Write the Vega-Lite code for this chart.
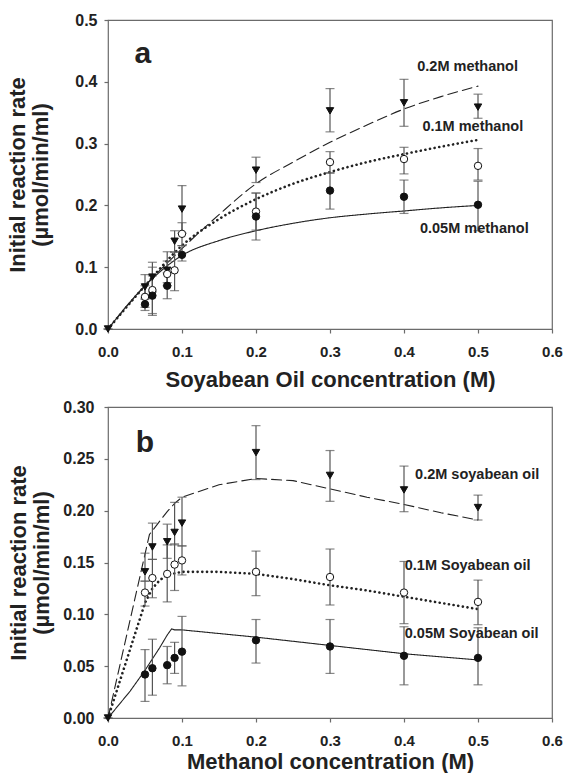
{
  "$schema": "https://vega.github.io/schema/vega-lite/v6.json",
  "padding": {"top": 11, "left": 6, "right": 0, "bottom": 0},
  "background": "white",
  "spacing": 7,
  "columns": 1,
  "align": "none",
  "config": {
    "font": "Liberation Sans",
    "view": {"stroke": "#6b6b6b", "strokeWidth": 1.2},
    "axis": {
      "grid": false, "domain": false, "labelFlush": false, "labelOverlap": false,
      "tickColor": "#6b6b6b", "tickSize": 4, "tickWidth": 1.2,
      "labelFont": "Liberation Sans", "labelFontWeight": "bold", "labelFontSize": 15, "labelColor": "#222",
      "titleFont": "Liberation Sans", "titleFontWeight": "bold", "titleFontSize": 22, "titleColor": "#222"
    },
    "axisY": {"labelFontSize": 16, "titleLineHeight": 23}
  },
  "datasets": {
    "a_pts": [
      {"x": 0, "y": 0, "lo": 0, "hi": 0, "s": "0.2M"},
      {"x": 0.05, "y": 0.068, "lo": 0.048, "hi": 0.088, "s": "0.2M"},
      {"x": 0.06, "y": 0.084, "lo": 0.06, "hi": 0.108, "s": "0.2M"},
      {"x": 0.08, "y": 0.095, "lo": 0.075, "hi": 0.125, "s": "0.2M"},
      {"x": 0.09, "y": 0.142, "lo": 0.125, "hi": 0.159, "s": "0.2M"},
      {"x": 0.1, "y": 0.194, "lo": 0.155, "hi": 0.232, "s": "0.2M"},
      {"x": 0.2, "y": 0.257, "lo": 0.237, "hi": 0.278, "s": "0.2M"},
      {"x": 0.3, "y": 0.353, "lo": 0.319, "hi": 0.389, "s": "0.2M"},
      {"x": 0.4, "y": 0.366, "lo": 0.328, "hi": 0.404, "s": "0.2M"},
      {"x": 0.5, "y": 0.359, "lo": 0.341, "hi": 0.38, "s": "0.2M"},
      {"x": 0.05, "y": 0.052, "lo": 0.035, "hi": 0.07, "s": "0.1M"},
      {"x": 0.06, "y": 0.063, "lo": 0.025, "hi": 0.1, "s": "0.1M"},
      {"x": 0.08, "y": 0.089, "lo": 0.07, "hi": 0.11, "s": "0.1M"},
      {"x": 0.09, "y": 0.095, "lo": 0.062, "hi": 0.124, "s": "0.1M"},
      {"x": 0.1, "y": 0.154, "lo": 0.135, "hi": 0.172, "s": "0.1M"},
      {"x": 0.2, "y": 0.19, "lo": 0.16, "hi": 0.22, "s": "0.1M"},
      {"x": 0.3, "y": 0.27, "lo": 0.252, "hi": 0.287, "s": "0.1M"},
      {"x": 0.4, "y": 0.275, "lo": 0.251, "hi": 0.294, "s": "0.1M"},
      {"x": 0.5, "y": 0.264, "lo": 0.241, "hi": 0.292, "s": "0.1M"},
      {"x": 0.05, "y": 0.04, "lo": 0.03, "hi": 0.05, "s": "0.05M"},
      {"x": 0.06, "y": 0.054, "lo": 0.022, "hi": 0.086, "s": "0.05M"},
      {"x": 0.08, "y": 0.07, "lo": 0.049, "hi": 0.091, "s": "0.05M"},
      {"x": 0.1, "y": 0.12, "lo": 0.11, "hi": 0.135, "s": "0.05M"},
      {"x": 0.2, "y": 0.182, "lo": 0.144, "hi": 0.22, "s": "0.05M"},
      {"x": 0.3, "y": 0.224, "lo": 0.194, "hi": 0.253, "s": "0.05M"},
      {"x": 0.4, "y": 0.214, "lo": 0.187, "hi": 0.241, "s": "0.05M"},
      {"x": 0.5, "y": 0.201, "lo": 0.159, "hi": 0.239, "s": "0.05M"}
    ],
    "a_fit": [
      {"x": 0, "y": 0, "s": "0.2M"}, {"x": 0.05, "y": 0.07, "s": "0.2M"}, {"x": 0.1, "y": 0.13, "s": "0.2M"},
      {"x": 0.15, "y": 0.185, "s": "0.2M"}, {"x": 0.2, "y": 0.235, "s": "0.2M"}, {"x": 0.25, "y": 0.27, "s": "0.2M"},
      {"x": 0.3, "y": 0.302, "s": "0.2M"}, {"x": 0.35, "y": 0.33, "s": "0.2M"}, {"x": 0.4, "y": 0.356, "s": "0.2M"},
      {"x": 0.45, "y": 0.376, "s": "0.2M"}, {"x": 0.5, "y": 0.393, "s": "0.2M"},
      {"x": 0, "y": 0, "s": "0.1M"}, {"x": 0.05, "y": 0.07, "s": "0.1M"}, {"x": 0.1, "y": 0.135, "s": "0.1M"},
      {"x": 0.15, "y": 0.178, "s": "0.1M"}, {"x": 0.2, "y": 0.21, "s": "0.1M"}, {"x": 0.25, "y": 0.235, "s": "0.1M"},
      {"x": 0.3, "y": 0.254, "s": "0.1M"}, {"x": 0.35, "y": 0.27, "s": "0.1M"}, {"x": 0.4, "y": 0.283, "s": "0.1M"},
      {"x": 0.45, "y": 0.295, "s": "0.1M"}, {"x": 0.5, "y": 0.306, "s": "0.1M"},
      {"x": 0, "y": 0, "s": "0.05M"}, {"x": 0.05, "y": 0.07, "s": "0.05M"}, {"x": 0.1, "y": 0.119, "s": "0.05M"},
      {"x": 0.15, "y": 0.143, "s": "0.05M"}, {"x": 0.2, "y": 0.159, "s": "0.05M"}, {"x": 0.25, "y": 0.171, "s": "0.05M"},
      {"x": 0.3, "y": 0.18, "s": "0.05M"}, {"x": 0.35, "y": 0.186, "s": "0.05M"}, {"x": 0.4, "y": 0.191, "s": "0.05M"},
      {"x": 0.45, "y": 0.196, "s": "0.05M"}, {"x": 0.5, "y": 0.2, "s": "0.05M"}
    ],
    "a_lab": [
      {"x": 0.486, "y": 0.424, "t": "0.2M methanol"},
      {"x": 0.493, "y": 0.327, "t": "0.1M methanol"},
      {"x": 0.495, "y": 0.162, "t": "0.05M methanol"}
    ],
    "b_pts": [
      {"x": 0, "y": 0, "lo": 0, "hi": 0, "s": "0.2M"},
      {"x": 0.05, "y": 0.141, "lo": 0.132, "hi": 0.159, "s": "0.2M"},
      {"x": 0.06, "y": 0.165, "lo": 0.153, "hi": 0.188, "s": "0.2M"},
      {"x": 0.08, "y": 0.17, "lo": 0.154, "hi": 0.187, "s": "0.2M"},
      {"x": 0.09, "y": 0.179, "lo": 0.167, "hi": 0.208, "s": "0.2M"},
      {"x": 0.1, "y": 0.188, "lo": 0.166, "hi": 0.213, "s": "0.2M"},
      {"x": 0.2, "y": 0.256, "lo": 0.23, "hi": 0.282, "s": "0.2M"},
      {"x": 0.3, "y": 0.234, "lo": 0.209, "hi": 0.258, "s": "0.2M"},
      {"x": 0.4, "y": 0.22, "lo": 0.199, "hi": 0.243, "s": "0.2M"},
      {"x": 0.5, "y": 0.203, "lo": 0.191, "hi": 0.215, "s": "0.2M"},
      {"x": 0.05, "y": 0.121, "lo": 0.108, "hi": 0.132, "s": "0.1M"},
      {"x": 0.06, "y": 0.135, "lo": 0.116, "hi": 0.153, "s": "0.1M"},
      {"x": 0.08, "y": 0.139, "lo": 0.112, "hi": 0.167, "s": "0.1M"},
      {"x": 0.09, "y": 0.148, "lo": 0.123, "hi": 0.168, "s": "0.1M"},
      {"x": 0.1, "y": 0.152, "lo": 0.138, "hi": 0.166, "s": "0.1M"},
      {"x": 0.2, "y": 0.141, "lo": 0.118, "hi": 0.161, "s": "0.1M"},
      {"x": 0.3, "y": 0.136, "lo": 0.109, "hi": 0.163, "s": "0.1M"},
      {"x": 0.4, "y": 0.121, "lo": 0.091, "hi": 0.151, "s": "0.1M"},
      {"x": 0.5, "y": 0.112, "lo": 0.09, "hi": 0.133, "s": "0.1M"},
      {"x": 0.05, "y": 0.042, "lo": 0.016, "hi": 0.066, "s": "0.05M"},
      {"x": 0.06, "y": 0.048, "lo": 0.022, "hi": 0.076, "s": "0.05M"},
      {"x": 0.08, "y": 0.051, "lo": 0.033, "hi": 0.069, "s": "0.05M"},
      {"x": 0.09, "y": 0.058, "lo": 0.043, "hi": 0.073, "s": "0.05M"},
      {"x": 0.1, "y": 0.064, "lo": 0.031, "hi": 0.098, "s": "0.05M"},
      {"x": 0.2, "y": 0.075, "lo": 0.053, "hi": 0.095, "s": "0.05M"},
      {"x": 0.3, "y": 0.069, "lo": 0.043, "hi": 0.095, "s": "0.05M"},
      {"x": 0.4, "y": 0.06, "lo": 0.032, "hi": 0.088, "s": "0.05M"},
      {"x": 0.5, "y": 0.058, "lo": 0.032, "hi": 0.087, "s": "0.05M"}
    ],
    "b_fit": [
      {"x": 0, "y": 0, "s": "0.2M"}, {"x": 0.03, "y": 0.095, "s": "0.2M"}, {"x": 0.056, "y": 0.177, "s": "0.2M"},
      {"x": 0.07, "y": 0.19, "s": "0.2M"}, {"x": 0.08, "y": 0.199, "s": "0.2M"}, {"x": 0.09, "y": 0.207, "s": "0.2M"},
      {"x": 0.1, "y": 0.213, "s": "0.2M"}, {"x": 0.15, "y": 0.225, "s": "0.2M"}, {"x": 0.2, "y": 0.231, "s": "0.2M"},
      {"x": 0.25, "y": 0.229, "s": "0.2M"}, {"x": 0.3, "y": 0.221, "s": "0.2M"}, {"x": 0.35, "y": 0.213, "s": "0.2M"},
      {"x": 0.4, "y": 0.206, "s": "0.2M"}, {"x": 0.45, "y": 0.198, "s": "0.2M"}, {"x": 0.5, "y": 0.191, "s": "0.2M"},
      {"x": 0, "y": 0, "s": "0.1M"}, {"x": 0.05, "y": 0.111, "s": "0.1M"}, {"x": 0.06, "y": 0.125, "s": "0.1M"},
      {"x": 0.07, "y": 0.133, "s": "0.1M"}, {"x": 0.08, "y": 0.138, "s": "0.1M"}, {"x": 0.1, "y": 0.141, "s": "0.1M"},
      {"x": 0.15, "y": 0.141, "s": "0.1M"}, {"x": 0.2, "y": 0.139, "s": "0.1M"}, {"x": 0.25, "y": 0.134, "s": "0.1M"},
      {"x": 0.3, "y": 0.128, "s": "0.1M"}, {"x": 0.35, "y": 0.123, "s": "0.1M"}, {"x": 0.4, "y": 0.117, "s": "0.1M"},
      {"x": 0.45, "y": 0.111, "s": "0.1M"}, {"x": 0.5, "y": 0.105, "s": "0.1M"},
      {"x": 0, "y": 0, "s": "0.05M"}, {"x": 0.03, "y": 0.026, "s": "0.05M"}, {"x": 0.05, "y": 0.046, "s": "0.05M"},
      {"x": 0.06, "y": 0.057, "s": "0.05M"}, {"x": 0.07, "y": 0.068, "s": "0.05M"}, {"x": 0.08, "y": 0.08, "s": "0.05M"},
      {"x": 0.086, "y": 0.086, "s": "0.05M"}, {"x": 0.09, "y": 0.085, "s": "0.05M"}, {"x": 0.1, "y": 0.085, "s": "0.05M"},
      {"x": 0.2, "y": 0.078, "s": "0.05M"}, {"x": 0.3, "y": 0.07, "s": "0.05M"}, {"x": 0.4, "y": 0.062, "s": "0.05M"},
      {"x": 0.5, "y": 0.056, "s": "0.05M"}
    ],
    "b_lab": [
      {"x": 0.415, "y": 0.2346, "t": "0.2M soyabean oil"},
      {"x": 0.401, "y": 0.1467, "t": "0.1M Soyabean oil"},
      {"x": 0.401, "y": 0.0811, "t": "0.05M Soyabean oil"}
    ]
  },
  "concat": [
    {
      "width": 444, "height": 309,
      "encoding": {
        "x": {"field": "x", "type": "quantitative", "title": "Soyabean Oil concentration (M)", "scale": {"domain": [0, 0.6]},
              "axis": {"values": [0, 0.1, 0.2, 0.3, 0.4, 0.5, 0.6], "format": ".1f", "labelPadding": 11, "titlePadding": 10}},
        "y": {"field": "y", "type": "quantitative", "title": ["Initial reaction rate", "(µmol/min/ml)"], "scale": {"domain": [0, 0.5]},
              "axis": {"values": [0, 0.1, 0.2, 0.3, 0.4, 0.5], "format": ".1f", "labelPadding": 7, "titlePadding": 22}}
      },
      "layer": [
        {
          "data": {"name": "a_fit"},
          "mark": {"type": "line", "interpolate": "monotone", "color": "#222", "strokeCap": "round"},
          "encoding": {
            "detail": {"field": "s"},
            "strokeDash": {"field": "s", "type": "nominal", "legend": null,
                           "scale": {"domain": ["0.2M", "0.1M", "0.05M"], "range": [[10, 5], [0.1, 4.6], [1, 0]]}},
            "strokeWidth": {"condition": {"test": "datum.s === '0.1M'", "value": 2.6}, "value": 1.1}
          }
        },
        {
          "data": {"name": "a_pts"},
          "mark": {"type": "errorbar", "ticks": {"size": 9, "color": "#555"}, "rule": {"color": "#555"}, "thickness": 1.2},
          "encoding": {
            "y": {"field": "lo", "type": "quantitative", "title": ["Initial reaction rate", "(µmol/min/ml)"]},
            "y2": {"field": "hi"}
          }
        },
        {
          "data": {"name": "a_pts"},
          "mark": {"type": "point", "filled": false, "stroke": "#111", "strokeWidth": 1, "opacity": 1},
          "encoding": {
            "shape": {"field": "s", "type": "nominal", "legend": null,
                      "scale": {"domain": ["0.2M", "0.1M", "0.05M"], "range": ["triangle-down", "circle", "circle"]}},
            "fill": {"field": "s", "type": "nominal", "legend": null,
                     "scale": {"domain": ["0.2M", "0.1M", "0.05M"], "range": ["#111", "white", "#111"]}},
            "size": {"value": 55}
          }
        },
        {
          "data": {"values": [{"x": 0.047, "y": 0.445, "t": "a"}]},
          "mark": {"type": "text", "font": "Liberation Sans", "fontWeight": "bold", "fontSize": 30, "color": "#222", "baseline": "middle", "align": "center"},
          "encoding": {"text": {"field": "t"}}
        },
        {
          "data": {"name": "a_lab"},
          "mark": {"type": "text", "font": "Liberation Sans", "fontWeight": "bold", "fontSize": 14.5, "color": "#222", "baseline": "middle", "align": "center"},
          "encoding": {"text": {"field": "t"}}
        }
      ]
    },
    {
      "width": 444, "height": 311,
      "encoding": {
        "x": {"field": "x", "type": "quantitative", "title": "Methanol concentration (M)", "scale": {"domain": [0, 0.6]},
              "axis": {"values": [0, 0.1, 0.2, 0.3, 0.4, 0.5, 0.6], "format": ".1f", "labelPadding": 11, "titlePadding": 3}},
        "y": {"field": "y", "type": "quantitative", "title": ["Initial reaction rate", "(µmol/min/ml)"], "scale": {"domain": [0, 0.3]},
              "axis": {"values": [0, 0.05, 0.1, 0.15, 0.2, 0.25, 0.3], "format": ".2f", "labelPadding": 10, "titlePadding": 9}}
      },
      "layer": [
        {
          "data": {"name": "b_fit"},
          "mark": {"type": "line", "color": "#222", "strokeCap": "round"},
          "encoding": {
            "detail": {"field": "s"},
            "strokeDash": {"field": "s", "type": "nominal", "legend": null,
                           "scale": {"domain": ["0.2M", "0.1M", "0.05M"], "range": [[10, 5], [0.1, 4.6], [1, 0]]}},
            "strokeWidth": {"condition": {"test": "datum.s === '0.1M'", "value": 2.6}, "value": 1.1}
          }
        },
        {
          "data": {"name": "b_pts"},
          "mark": {"type": "errorbar", "ticks": {"size": 9, "color": "#555"}, "rule": {"color": "#555"}, "thickness": 1.2},
          "encoding": {
            "y": {"field": "lo", "type": "quantitative", "title": ["Initial reaction rate", "(µmol/min/ml)"]},
            "y2": {"field": "hi"}
          }
        },
        {
          "data": {"name": "b_pts"},
          "mark": {"type": "point", "filled": false, "stroke": "#111", "strokeWidth": 1, "opacity": 1},
          "encoding": {
            "shape": {"field": "s", "type": "nominal", "legend": null,
                      "scale": {"domain": ["0.2M", "0.1M", "0.05M"], "range": ["triangle-down", "circle", "circle"]}},
            "fill": {"field": "s", "type": "nominal", "legend": null,
                     "scale": {"domain": ["0.2M", "0.1M", "0.05M"], "range": ["#111", "white", "#111"]}},
            "size": {"value": 55}
          }
        },
        {
          "data": {"values": [{"x": 0.05, "y": 0.265, "t": "b"}]},
          "mark": {"type": "text", "font": "Liberation Sans", "fontWeight": "bold", "fontSize": 30, "color": "#222", "baseline": "middle", "align": "center"},
          "encoding": {"text": {"field": "t"}}
        },
        {
          "data": {"name": "b_lab"},
          "mark": {"type": "text", "font": "Liberation Sans", "fontWeight": "bold", "fontSize": 14.5, "color": "#222", "baseline": "middle", "align": "left"},
          "encoding": {"text": {"field": "t"}}
        }
      ]
    }
  ]
}
